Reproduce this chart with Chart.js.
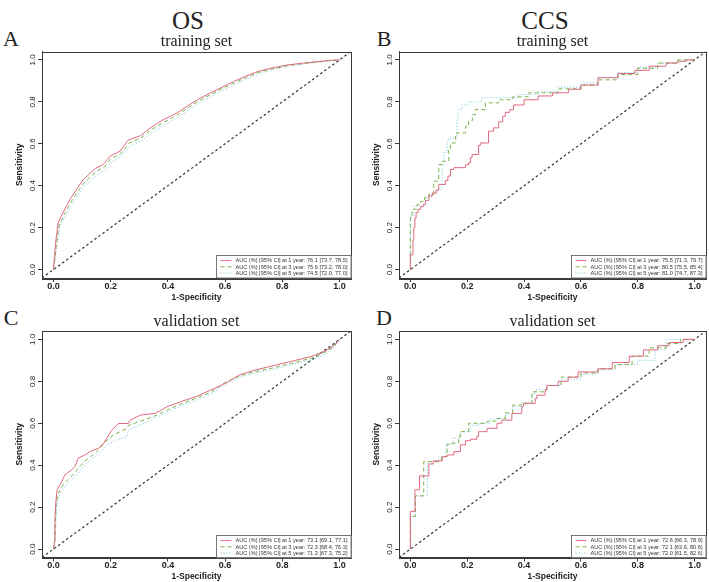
<!DOCTYPE html>
<html><head><meta charset="utf-8">
<script src="https://cdn.jsdelivr.net/npm/chart.js@4.4.1/dist/chart.umd.min.js"></script>
<style>
html,body{margin:0;padding:0;background:#fff;}
#wrap{position:relative;width:709px;height:582px;overflow:hidden;background:#fff;}
canvas{position:absolute;}
.lbl{position:absolute;font-family:"Liberation Serif","DejaVu Serif",serif;color:#222;line-height:1;white-space:nowrap;transform:translate(-50%,-50%);}
</style></head><body>
<div id="wrap">
<div class="lbl" style="left:188px;top:20px;font-size:25px;">OS</div>
<div class="lbl" style="left:545px;top:20px;font-size:25px;">CCS</div>
<div class="lbl" style="left:11px;top:39px;font-size:22px;">A</div>
<div class="lbl" style="left:384px;top:39px;font-size:22px;">B</div>
<div class="lbl" style="left:11px;top:318px;font-size:22px;">C</div>
<div class="lbl" style="left:384px;top:318px;font-size:22px;">D</div>
<canvas id="cA" width="358" height="288" style="left:0px;top:22px;"></canvas>
<canvas id="cB" width="351" height="288" style="left:358px;top:22px;"></canvas>
<canvas id="cC" width="358" height="272" style="left:0px;top:310px;"></canvas>
<canvas id="cD" width="351" height="272" style="left:358px;top:310px;"></canvas>
</div>
<script>
// ---------- DATA ----------
const tickVals = [0, 0.2, 0.4, 0.6, 0.8, 1.0];
const yearLabels = ['1 year', '3 year', '5 year'];
const panelTitles = ['training set', 'training set', 'validation set', 'validation set'];

// AUC (%) [95% CI]
const aucA = ['76.1 [73.7, 78.5]', '75.6 [73.2, 78.0]', '74.5 [72.0, 77.0]'];
const aucB = ['75.5 [71.3, 79.7]', '80.5 [75.5, 85.4]', '81.0 [74.7, 87.3]'];
const aucC = ['73.1 [69.1, 77.1]', '72.3 [68.4, 76.3]', '71.3 [67.3, 75.2]'];
const aucD = ['72.6 [66.3, 78.9]', '72.1 [63.6, 80.6]', '72.0 [61.5, 82.6]'];

// ROC points [1-specificity, sensitivity]
const rocA_1y = [[0,0],[0.003,0.05],[0.006,0.1],[0.009,0.145],[0.017,0.226],[0.034,0.274],[0.058,0.335],[0.081,0.383],[0.105,0.43],[0.146,0.482],[0.174,0.501],[0.198,0.541],[0.233,0.565],[0.261,0.617],[0.304,0.639],[0.339,0.676],[0.384,0.715],[0.432,0.747],[0.474,0.785],[0.514,0.818],[0.548,0.842],[0.584,0.866],[0.63,0.897],[0.672,0.922],[0.713,0.944],[0.765,0.962],[0.818,0.976],[0.888,0.987],[0.959,0.997],[1,1]];
const rocA_3y = [[0,0],[0.004,0.04],[0.008,0.09],[0.012,0.135],[0.02,0.212],[0.037,0.262],[0.06,0.318],[0.084,0.37],[0.108,0.415],[0.15,0.468],[0.178,0.49],[0.2,0.528],[0.235,0.553],[0.265,0.603],[0.305,0.628],[0.34,0.665],[0.386,0.703],[0.435,0.738],[0.475,0.776],[0.515,0.81],[0.55,0.835],[0.585,0.86],[0.632,0.89],[0.675,0.917],[0.715,0.94],[0.768,0.958],[0.82,0.973],[0.89,0.985],[0.96,0.996],[1,1]];
const rocA_5y = [[0,0],[0.005,0.035],[0.009,0.085],[0.013,0.13],[0.022,0.205],[0.04,0.252],[0.063,0.305],[0.087,0.356],[0.11,0.4],[0.152,0.452],[0.18,0.475],[0.203,0.512],[0.238,0.54],[0.268,0.588],[0.308,0.615],[0.343,0.652],[0.388,0.69],[0.437,0.727],[0.477,0.765],[0.517,0.8],[0.552,0.826],[0.588,0.852],[0.635,0.882],[0.678,0.91],[0.718,0.934],[0.77,0.954],[0.822,0.97],[0.892,0.983],[0.962,0.995],[1,1]];

const rocB_1y = [[0,0],[0.009,0.07],[0.012,0.14],[0.016,0.2],[0.02,0.245],[0.027,0.272],[0.036,0.288],[0.045,0.3],[0.053,0.311],[0.065,0.33],[0.077,0.351],[0.09,0.365],[0.1,0.379],[0.123,0.406],[0.132,0.425],[0.141,0.446],[0.153,0.478],[0.194,0.486],[0.205,0.5],[0.211,0.509],[0.217,0.533],[0.24,0.549],[0.246,0.592],[0.275,0.604],[0.293,0.66],[0.311,0.676],[0.325,0.705],[0.334,0.731],[0.35,0.75],[0.363,0.763],[0.4,0.785],[0.45,0.81],[0.5,0.828],[0.556,0.843],[0.6,0.86],[0.66,0.88],[0.73,0.915],[0.79,0.935],[0.84,0.95],[0.9,0.97],[0.94,0.985],[0.97,0.993],[1,1]];
const rocB_3y = [[0,0],[0.006,0.248],[0.024,0.288],[0.036,0.311],[0.05,0.325],[0.065,0.343],[0.082,0.359],[0.1,0.422],[0.112,0.501],[0.135,0.517],[0.141,0.573],[0.159,0.604],[0.164,0.636],[0.194,0.652],[0.205,0.683],[0.218,0.71],[0.229,0.739],[0.264,0.763],[0.31,0.795],[0.36,0.81],[0.416,0.824],[0.52,0.843],[0.6,0.862],[0.66,0.88],[0.73,0.905],[0.8,0.93],[0.87,0.96],[0.94,0.985],[1,1]];
const rocB_5y = [[0,0],[0.012,0.256],[0.053,0.303],[0.077,0.343],[0.095,0.365],[0.112,0.383],[0.118,0.501],[0.13,0.56],[0.141,0.62],[0.164,0.628],[0.168,0.715],[0.182,0.763],[0.205,0.786],[0.25,0.8],[0.38,0.82],[0.45,0.835],[0.52,0.85],[0.6,0.87],[0.66,0.89],[0.73,0.915],[0.8,0.94],[0.87,0.965],[0.94,0.985],[1,1]];

const rocC_1y = [[0,0],[0.005,0.046],[0.005,0.141],[0.009,0.236],[0.013,0.283],[0.029,0.322],[0.04,0.354],[0.064,0.378],[0.075,0.394],[0.087,0.434],[0.11,0.449],[0.128,0.465],[0.157,0.481],[0.175,0.504],[0.204,0.567],[0.227,0.599],[0.262,0.599],[0.268,0.615],[0.304,0.639],[0.356,0.647],[0.397,0.679],[0.444,0.703],[0.502,0.729],[0.549,0.758],[0.6,0.79],[0.65,0.83],[0.7,0.852],[0.76,0.872],[0.83,0.895],[0.9,0.918],[0.95,0.945],[0.98,0.97],[1,1]];
const rocC_3y = [[0,0],[0.006,0.05],[0.007,0.15],[0.01,0.22],[0.015,0.26],[0.03,0.3],[0.05,0.33],[0.065,0.35],[0.087,0.385],[0.11,0.42],[0.13,0.44],[0.152,0.465],[0.187,0.52],[0.21,0.545],[0.257,0.576],[0.262,0.59],[0.315,0.615],[0.362,0.639],[0.4,0.665],[0.45,0.695],[0.5,0.72],[0.55,0.748],[0.6,0.795],[0.65,0.825],[0.7,0.845],[0.76,0.862],[0.83,0.885],[0.9,0.91],[0.95,0.94],[0.98,0.965],[1,1]];
const rocC_5y = [[0,0],[0.007,0.05],[0.009,0.14],[0.012,0.21],[0.018,0.25],[0.035,0.29],[0.055,0.32],[0.07,0.34],[0.09,0.37],[0.115,0.41],[0.135,0.43],[0.16,0.455],[0.19,0.5],[0.22,0.52],[0.257,0.536],[0.262,0.567],[0.315,0.6],[0.362,0.628],[0.4,0.655],[0.45,0.685],[0.5,0.71],[0.55,0.74],[0.6,0.785],[0.65,0.818],[0.7,0.838],[0.76,0.855],[0.83,0.878],[0.9,0.9],[0.95,0.93],[0.98,0.96],[1,1]];

const rocD_1y = [[0,0],[0.016,0.18],[0.032,0.283],[0.065,0.349],[0.08,0.406],[0.112,0.421],[0.129,0.441],[0.153,0.449],[0.176,0.465],[0.194,0.497],[0.211,0.517],[0.234,0.524],[0.24,0.539],[0.27,0.56],[0.305,0.576],[0.322,0.6],[0.357,0.615],[0.392,0.647],[0.398,0.679],[0.439,0.695],[0.445,0.718],[0.474,0.734],[0.48,0.758],[0.52,0.78],[0.555,0.8],[0.59,0.82],[0.66,0.845],[0.71,0.86],[0.77,0.89],[0.82,0.92],[0.87,0.95],[0.91,0.97],[0.96,0.985],[1,1]];
const rocD_3y = [[0,0],[0.018,0.156],[0.047,0.254],[0.109,0.417],[0.129,0.441],[0.141,0.5],[0.17,0.505],[0.176,0.536],[0.205,0.56],[0.24,0.6],[0.27,0.6],[0.3,0.61],[0.334,0.623],[0.36,0.65],[0.392,0.687],[0.427,0.695],[0.433,0.742],[0.474,0.75],[0.48,0.76],[0.53,0.78],[0.6,0.82],[0.66,0.84],[0.72,0.86],[0.78,0.88],[0.84,0.92],[0.9,0.96],[0.95,0.98],[1,1]];
const rocD_5y = [[0,0],[0.018,0.156],[0.06,0.254],[0.1,0.417],[0.125,0.44],[0.15,0.5],[0.175,0.53],[0.21,0.56],[0.24,0.59],[0.28,0.6],[0.334,0.62],[0.36,0.645],[0.392,0.68],[0.43,0.7],[0.44,0.74],[0.48,0.76],[0.53,0.78],[0.6,0.81],[0.66,0.835],[0.72,0.855],[0.8,0.88],[0.86,0.9],[0.9,0.95],[0.92,1],[1,1]];

const diagonal = [[-0.04,-0.04],[1.04,1.04]];

// ---------- STYLE ----------
const COLORS = ['#E06A80', '#7DB24A', '#6EC4DC'];
const DASHES = [[], [4, 3], [1, 2]];
const SANS = '"Liberation Sans", Arial, Helvetica, sans-serif';
const SERIF = '"Liberation Serif", "DejaVu Serif", serif';
const AXIS_COLOR = '#3a3a3a';

const rocDecor = {
  id: 'rocDecor',
  afterDraw(chart) {
    const {ctx, chartArea: a} = chart;
    ctx.save();
    ctx.strokeStyle = AXIS_COLOR;
    ctx.lineWidth = 1;
    ctx.setLineDash([]);
    ctx.strokeRect(Math.round(a.left) + 0.5, Math.round(a.top) + 0.5, Math.round(a.right - a.left), Math.round(a.bottom - a.top));
    // legend
    const items = chart.data.datasets.filter(d => d.legendText);
    const fs = 5.6;
    ctx.font = fs + 'px ' + SANS;
    const textW = Math.max(...items.map(d => ctx.measureText(d.legendText).width));
    const rowH = 6.2, padX = 4, lineLen = 11, gap = 4;
    const boxW = padX + lineLen + gap + textW + padX;
    const boxH = rowH * items.length + 4;
    const x0 = Math.round(a.right - boxW) + 0.5, y0 = Math.round(a.bottom - boxH) + 0.5;
    ctx.fillStyle = '#fff';
    ctx.fillRect(x0, y0, boxW, boxH);
    ctx.lineWidth = 0.8;
    ctx.strokeStyle = '#555';
    ctx.strokeRect(x0, y0, a.right - x0, a.bottom - y0);
    items.forEach((d, i) => {
      const y = y0 + 2 + rowH * (i + 0.5);
      ctx.strokeStyle = d.borderColor;
      ctx.lineWidth = 1;
      ctx.setLineDash(d.borderDash || []);
      ctx.beginPath();
      ctx.moveTo(x0 + padX, y);
      ctx.lineTo(x0 + padX + lineLen, y);
      ctx.stroke();
      ctx.setLineDash([]);
      ctx.fillStyle = '#333';
      ctx.textBaseline = 'middle';
      ctx.textAlign = 'left';
      ctx.fillText(d.legendText, x0 + padX + lineLen + gap, y + 0.3);
    });
    ctx.restore();
  }
};

function toXY(arr) { return arr.map(p => ({x: p[0], y: p[1]})); }

function makePanel(id, curves, aucs, title, stepped, g) {
  const datasets = curves.map((c, i) => ({
    data: toXY(c),
    borderColor: COLORS[i],
    borderDash: DASHES[i],
    borderWidth: 1,
    stepped: stepped ? 'after' : false,
    pointRadius: 0,
    fill: false,
    legendText: 'AUC (%) [95% CI] at ' + yearLabels[i] + ': ' + aucs[i]
  }));
  datasets.push({
    data: toXY(diagonal), borderColor: '#333', borderDash: [2.5, 2.5], borderWidth: 1.2,
    pointRadius: 0, fill: false
  });
  new Chart(document.getElementById(id), {
    type: 'line',
    data: {datasets},
    plugins: [rocDecor],
    options: {
      responsive: false, animation: false, devicePixelRatio: 1,
      layout: {padding: {left: 0, right: g.padR, top: g.padT, bottom: 0}},
      elements: {line: {tension: 0}},
      plugins: {
        legend: {display: false}, tooltip: {enabled: false},
        title: {display: true, text: title, fullSize: false, color: '#222',
          font: {family: SERIF, size: 16, weight: 'normal'}, padding: {top: 0, bottom: 0}}
      },
      scales: {
        x: {
          type: 'linear', min: -0.04, max: 1.04,
          afterBuildTicks(s) { s.ticks = tickVals.map(v => ({value: v})); },
          afterFit(s) { s.height = g.xH; },
          ticks: {callback: v => Number(v).toFixed(1), color: '#222', padding: -1, maxRotation: 0, autoSkip: false,
            font: {family: SANS, size: 9, weight: 'bold'}},
          grid: {drawOnChartArea: false, drawTicks: true, tickLength: 4, color: AXIS_COLOR},
          border: {display: true, color: AXIS_COLOR},
          title: {display: true, text: '1-Specificity', color: '#222',
            font: {family: SANS, size: 8.5, weight: 'bold'}, padding: {top: 0, bottom: g.xtPad}}
        },
        y: {
          type: 'linear', min: -0.04, max: 1.04,
          afterBuildTicks(s) { s.ticks = tickVals.map(v => ({value: v})); },
          afterFit(s) { s.width = g.yW; },
          ticks: {callback: v => Number(v).toFixed(1), color: '#222', padding: 0, minRotation: 90, maxRotation: 90,
            crossAlign: 'center', autoSkip: false, font: {family: SANS, size: 8}},
          grid: {drawOnChartArea: false, drawTicks: true, tickLength: 4, color: AXIS_COLOR},
          border: {display: true, color: AXIS_COLOR},
          title: {display: true, text: 'Sensitivity', color: '#222',
            font: {family: SANS, size: 8.5, weight: 'bold'}, padding: {top: g.ytPad, bottom: 0}}
        }
      }
    }
  });
}

makePanel('cA', [rocA_1y, rocA_3y, rocA_5y], aucA, panelTitles[0], false, {padR: 7, padT: 10.3, xH: 32, yW: 42, xtPad: 6.9, ytPad: 15});
makePanel('cB', [rocB_1y, rocB_3y, rocB_5y], aucB, panelTitles[1], true, {padR: 3, padT: 10.3, xH: 32, yW: 41, xtPad: 6.9, ytPad: 14});
makePanel('cC', [rocC_1y, rocC_3y, rocC_5y], aucC, panelTitles[2], false, {padR: 7, padT: 1.8, xH: 24.5, yW: 42, xtPad: 0, ytPad: 15});
makePanel('cD', [rocD_1y, rocD_3y, rocD_5y], aucD, panelTitles[3], true, {padR: 3, padT: 1.8, xH: 24.5, yW: 41, xtPad: 0, ytPad: 14});
</script>
</body></html>
